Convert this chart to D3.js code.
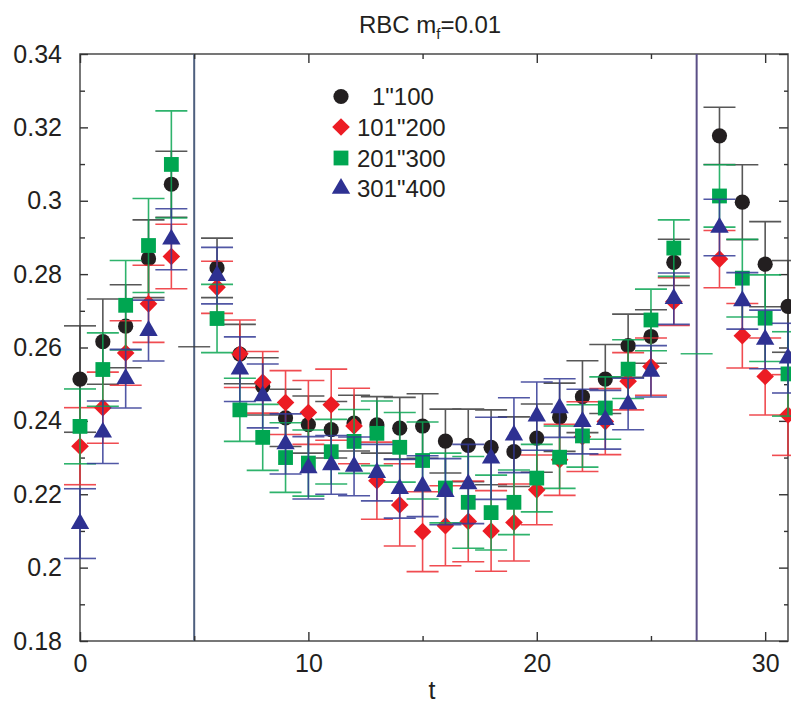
<!DOCTYPE html>
<html><head><meta charset="utf-8">
<script src="https://cdn.jsdelivr.net/npm/d3@7"></script>
<style>body{margin:0;background:#fff}svg{display:block}text{font-family:"Liberation Sans",Arial,Helvetica,sans-serif}</style>
</head><body>
<svg id="c" width="791" height="707"></svg>
<script>
const times = [0,1,2,3,4,6,7,8,9,10,11,12,13,14,15,16,17,18,19,20,21,22,23,24,25,26,28,29,30,31];
const seriesNames = ['1"100', '101"200', '201"300', '301"400'];
const blackVals = [0.2514,0.2616,0.2658,0.2842,0.3045,0.2817,0.2582,0.2494,0.2408,0.2390,0.2376,0.2394,0.2389,0.2380,0.2386,0.2345,0.2333,0.2328,0.2316,0.2353,0.2410,0.2466,0.2514,0.2605,0.2630,0.2832,0.3177,0.2996,0.2827,0.2712];
const blackErrs = [0.0145,0.0116,0.0113,0.0106,0.0090,0.0081,0.0081,0.0078,0.0078,0.0078,0.0077,0.0076,0.0077,0.0084,0.0088,0.0087,0.0099,0.0102,0.0095,0.0093,0.0093,0.0098,0.0094,0.0086,0.0073,0.0063,0.0078,0.0102,0.0116,0.0125];
const redVals = [0.2331,0.2436,0.2585,0.2719,0.2848,0.2764,0.2583,0.2505,0.2450,0.2423,0.2444,0.2386,0.2237,0.2171,0.2098,0.2114,0.2126,0.2100,0.2123,0.2212,0.2294,0.2357,0.2398,0.2508,0.2548,0.2725,0.2841,0.2632,0.2521,0.2416];
const redErrs = [0.0105,0.0097,0.0088,0.0105,0.0088,0.0071,0.0092,0.0084,0.0087,0.0087,0.0097,0.0103,0.0105,0.0112,0.0109,0.0109,0.0110,0.0110,0.0105,0.0095,0.0097,0.0095,0.0090,0.0078,0.0078,0.0065,0.0078,0.0088,0.0105,0.0110];
const greenVals = [0.2385,0.2540,0.2715,0.2878,0.3099,0.2679,0.2430,0.2355,0.2300,0.2285,0.2316,0.2344,0.2366,0.2328,0.2292,0.2217,0.2178,0.2150,0.2178,0.2244,0.2301,0.2359,0.2435,0.2541,0.2675,0.2871,0.3013,0.2789,0.2680,0.2528];
const greenErrs = [0.0102,0.0100,0.0122,0.0128,0.0146,0.0093,0.0086,0.0090,0.0095,0.0090,0.0088,0.0087,0.0088,0.0095,0.0105,0.0095,0.0125,0.0102,0.0088,0.0092,0.0085,0.0085,0.0085,0.0080,0.0084,0.0077,0.0085,0.0106,0.0118,0.0115];
const blueVals = [0.2120,0.2369,0.2515,0.2646,0.2895,0.2796,0.2541,0.2468,0.2337,0.2272,0.2280,0.2276,0.2259,0.2215,0.2222,0.2207,0.2228,0.2298,0.2361,0.2413,0.2435,0.2398,0.2403,0.2446,0.2535,0.2733,0.2927,0.2727,0.2622,0.2571];
const blueErrs = [0.0095,0.0085,0.0080,0.0083,0.0083,0.0077,0.0088,0.0087,0.0082,0.0085,0.0080,0.0080,0.0077,0.0080,0.0083,0.0090,0.0108,0.0112,0.0102,0.0093,0.0080,0.0088,0.0080,0.0070,0.0070,0.0070,0.0077,0.0077,0.0080,0.0095];
const strayCapTimes = [5, 27];
const strayCapVals = [0.2602, 0.2583];
const strayCapSeries = [0, 2];
const boundaryTimes = [5, 27];
const xTicks = [0,10,20,30];
const xMinorTicks = [5,15,25];
const yTicks = [0.18,0.2,0.22,0.24,0.26,0.28,0.3,0.32,0.34];
const yTickLabels = ["0.18","0.2","0.22","0.24","0.26","0.28","0.3","0.32","0.34"];
const yMinorTicks = [0.19,0.21,0.23,0.25,0.27,0.29,0.31,0.33];

const colors = ["#231f20", "#ec1c24", "#00a651", "#2e3192"];
const barColors = ["#3a3a3a", "#ee2d33", "#0aa653", "#333a96"];
const shapes = ["circle", "diamond", "square", "triangle"];
const allVals = [blackVals, redVals, greenVals, blueVals];
const allErrs = [blackErrs, redErrs, greenErrs, blueErrs];

const svg = d3.select("#c");
const x = d3.scaleLinear().domain([0,31]).range([80,788]);
const y = d3.scaleLinear().domain([0.18,0.34]).range([641,54]);

function shapePath(s){
  if(s==="circle") return d3.symbol(d3.symbolCircle, Math.PI*7.6*7.6)();
  if(s==="diamond") return "M0,-8.8L8.8,0L0,8.8L-8.8,0Z";
  if(s==="square") return "M-7.4,-7.4H7.4V7.4H-7.4Z";
  return "M0,-10.6L9.2,5.3L-9.2,5.3Z";
}

const frame = svg.append("g").attr("stroke","#555").attr("stroke-width",1.6).attr("fill","none");
frame.append("rect").attr("x",x(0)).attr("y",y(0.34)).attr("width",x(31)-x(0)).attr("height",y(0.18)-y(0.34));

svg.append("g").selectAll("line").data(boundaryTimes).join("line")
  .attr("x1",d=>x(d)).attr("x2",d=>x(d)).attr("y1",y(0.34)).attr("y2",y(0.18))
  .attr("stroke",(d,i)=>i===0?"#4d5f7e":"#5a4f86").attr("stroke-width",2);

const axB = d3.axisBottom(x).tickValues(xTicks).tickSize(-9).tickFormat(d=>d).tickPadding(13);
const gB = svg.append("g").attr("transform",`translate(0,${y(0.18)})`).call(axB);
const axT = d3.axisTop(x).tickValues(xTicks).tickSize(-9).tickFormat("");
const gT = svg.append("g").attr("transform",`translate(0,${y(0.34)})`).call(axT);
const axBm = d3.axisBottom(x).tickValues(xMinorTicks).tickSize(-5).tickFormat("");
const gBm = svg.append("g").attr("transform",`translate(0,${y(0.18)})`).call(axBm);
const axTm = d3.axisTop(x).tickValues(xMinorTicks).tickSize(-5).tickFormat("");
const gTm = svg.append("g").attr("transform",`translate(0,${y(0.34)})`).call(axTm);
const axL = d3.axisLeft(y).tickValues(yTicks).tickSize(-8).tickPadding(18).tickFormat((d,i)=>yTickLabels[i]);
const gL = svg.append("g").attr("transform",`translate(${x(0)},0)`).call(axL);
const axLm = d3.axisLeft(y).tickValues(yMinorTicks).tickSize(-5).tickFormat("");
const gLm = svg.append("g").attr("transform",`translate(${x(0)},0)`).call(axLm);
const axR = d3.axisRight(y).tickValues(yTicks).tickSize(-9).tickFormat("");
const gR = svg.append("g").attr("transform",`translate(${x(31)},0)`).call(axR);
const axRm = d3.axisRight(y).tickValues(yMinorTicks).tickSize(-4).tickFormat("");
const gRm = svg.append("g").attr("transform",`translate(${x(31)},0)`).call(axRm);
[gB,gT,gBm,gTm,gL,gLm,gR,gRm].forEach(g=>{
  g.select(".domain").remove();
  g.selectAll(".tick line").attr("stroke","#333").attr("stroke-width",1.4);
  g.selectAll("text").attr("font-size",25).attr("fill","#231f20").attr("font-family",'"Liberation Sans",Arial,sans-serif');
});
gB.selectAll("text").attr("dy","0.72em");

svg.append("text").attr("x",432).attr("y",699).attr("text-anchor","middle").attr("font-size",25).attr("fill","#231f20").text("t");
const title = svg.append("text").attr("x",430).attr("y",33).attr("text-anchor","middle").attr("font-size",24).attr("fill","#231f20");
title.append("tspan").text("RBC m");
title.append("tspan").attr("font-size",15).attr("dy",6).text("f");
title.append("tspan").attr("dy",-6).text("=0.01");

svg.append("g").selectAll("line").data(strayCapTimes).join("line")
  .attr("x1",d=>x(d)-16).attr("x2",d=>x(d)+16)
  .attr("y1",(d,i)=>y(strayCapVals[i])).attr("y2",(d,i)=>y(strayCapVals[i]))
  .attr("stroke",(d,i)=>barColors[strayCapSeries[i]]).attr("stroke-width",1.6).attr("opacity",0.8);

allVals.forEach((vals, si)=>{
  const data = times.map((t,i)=>({t, v:vals[i], e:allErrs[si][i]}));
  const g = svg.append("g");
  const eb = g.append("g").attr("stroke",barColors[si]).attr("stroke-width",1.6).attr("opacity",0.85);
  eb.selectAll(".stem").data(data).join("line").attr("class","stem")
    .attr("x1",d=>x(d.t)).attr("x2",d=>x(d.t)).attr("y1",d=>y(d.v+d.e)).attr("y2",d=>y(d.v-d.e));
  eb.selectAll(".capT").data(data).join("line").attr("class","capT")
    .attr("x1",d=>x(d.t)-16).attr("x2",d=>x(d.t)+16).attr("y1",d=>y(d.v+d.e)).attr("y2",d=>y(d.v+d.e));
  eb.selectAll(".capB").data(data).join("line").attr("class","capB")
    .attr("x1",d=>x(d.t)-16).attr("x2",d=>x(d.t)+16).attr("y1",d=>y(d.v-d.e)).attr("y2",d=>y(d.v-d.e));
  g.selectAll(".mk").data(data).join("path").attr("class","mk")
    .attr("d",shapePath(shapes[si])).attr("fill",colors[si])
    .attr("transform",d=>`translate(${x(d.t)},${y(d.v)})`);
});

const leg = svg.append("g");
const legendRows = [96.5, 127, 158, 188.5];
seriesNames.forEach((name,i)=>{
  leg.append("path").attr("d",shapePath(shapes[i])).attr("fill",colors[i])
    .attr("transform",`translate(341,${legendRows[i]})`);
  leg.append("text").attr("x", i===0?372:357).attr("y",legendRows[i]+8.5)
    .attr("font-size",24).attr("fill","#231f20").text(name);
});
</script>
</body></html>
